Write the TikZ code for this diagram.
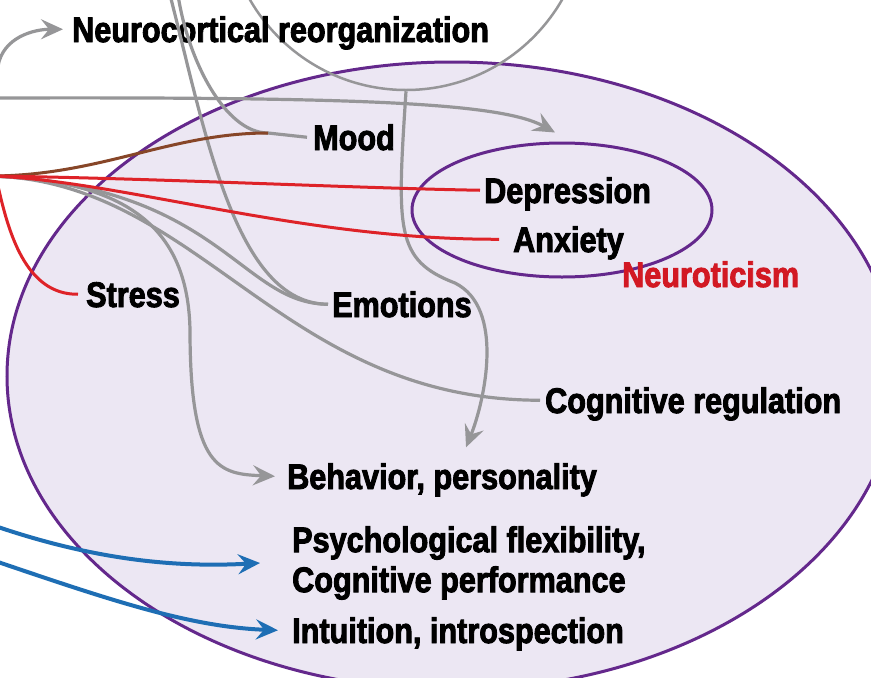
\documentclass[tikz,border=0pt]{standalone}
\usepackage{fontspec}
\usetikzlibrary{arrows.meta,shapes.geometric}
\newfontfamily\lblfont{Liberation Sans}[FakeStretch=0.86,BoldFeatures={FakeBold=2.5}]
\definecolor{lngray}{RGB}{150,150,152}
\definecolor{lnred}{RGB}{222,35,40}
\definecolor{txtred}{RGB}{210,25,35}
\definecolor{lnbrown}{RGB}{135,70,40}
\definecolor{lnblue}{RGB}{30,110,180}
\definecolor{ringpurple}{RGB}{100,40,140}
\definecolor{ringfill}{RGB}{236,231,243}
\begin{document}
\begin{tikzpicture}[x=1pt, y=-1pt,
                    lbl/.style={font=\lblfont\bfseries\fontsize{35.6}{40}\selectfont, inner sep=0pt},
                    caplbl/.style={lbl, anchor=base west, text height=25.5pt, text depth=0pt},
                    grayline/.style={draw=lngray, line width=3.2pt},
                    redline/.style={draw=lnred, line width=3pt},
                    blueline/.style={draw=lnblue, line width=4pt},
                    tip/.style={-{Stealth[length=22pt,width=20pt,inset=8pt]}}]
  \useasboundingbox (0,0) rectangle (871,678);
  \clip (0,0) rectangle (871,678);
  \fill[white] (0,0) rectangle (871,678);
  \draw[draw=ringpurple, fill=ringfill, line width=3pt] (452,376) ellipse [x radius=445pt, y radius=314pt];
  \node[draw=ringpurple, line width=3pt, ellipse, minimum width=300pt, minimum height=134pt] (inner) at (562,210) {};
  \node[draw=lngray, line width=2.5pt, circle, minimum size=360pt] (ring) at (406,-90) {};

  \node[caplbl] (reorg) at (72,42) {Neurocortical reorganization};
  \node[caplbl] (mood) at (313,150) {Mood};
  \node[caplbl] (depr) at (484,203) {Depression};
  \node[caplbl] (anx) at (513,252) {Anxiety};
  \node[caplbl, text=txtred] (neurot) at (622,287) {Neuroticism};
  \node[caplbl] (stress) at (86,307) {Stress};
  \node[caplbl] (emot) at (332,317) {Emotions};
  \node[caplbl] (cogreg) at (545,413) {Cognitive regulation};
  \node[caplbl] (behav) at (287,489) {Behavior, personality};
  \node[lbl, anchor=west, align=left] (psych) at (292,563) {Psychological flexibility,\\Cognitive performance};
  \node[caplbl] (intu) at (292,643) {Intuition, introspection};

  \coordinate (hub) at (-10,176);
  \coordinate (upin) at (-2,66);
  \coordinate (flatin) at (-2,98);
  \coordinate (stressin) at (-2,186);
  \coordinate (topa) at (170,-5);
  \coordinate (topb) at (178,-5);
  \coordinate (moodjoin) at (268,133);
  \coordinate (bluea) at (-2,527);
  \coordinate (blueb) at (-2,562);

  \draw[grayline, tip] (upin) to[out=80, in=180] ([xshift=-9pt]reorg.west);
  \draw[grayline, tip] (flatin) .. controls (350,97) and (500,102) .. ([xshift=-7pt,yshift=9pt]inner.north);
  \draw[grayline] (moodjoin) -- ([xshift=-6pt]mood.west);
  \draw[grayline] (topb) .. controls (188,60) and (225,133) .. (moodjoin);
  \draw[grayline] (hub) .. controls (220,185) and (240,304) .. ([xshift=-4pt]emot.west);
  \draw[grayline] (topa) .. controls (205,130) and (235,304) .. ([xshift=-4pt]emot.west);
  \draw[grayline] (hub) .. controls (200,180) and (280,400) .. ([xshift=-5pt]cogreg.west);
  \draw[grayline, tip] (hub) .. controls (130,180) and (188,230) .. (190,330)
                       .. controls (190,470) and (220,474) .. ([xshift=-12pt]behav.west);
  \draw[grayline, tip] (ring.south) .. controls (397,230) and (395,260) .. (455,283)
                       .. controls (505,308) and (485,400) .. ([xshift=24pt,yshift=16pt]behav.north);
  \draw[draw=lnbrown, line width=3pt] (hub) .. controls (100,176) and (170,133) .. (moodjoin);
  \draw[redline] (hub) .. controls (150,178) and (350,188) .. ([xshift=-4pt]depr.west);
  \draw[redline] (hub) .. controls (120,180) and (300,240) .. ([xshift=-14pt]anx.west);
  \draw[redline] (stressin) .. controls (8,230) and (25,295) .. ([xshift=-8pt]stress.west);
  \draw[blueline, tip] (bluea) .. controls (90,558) and (170,568) .. ([xshift=-32pt]psych.west);
  \draw[blueline, tip] (blueb) .. controls (110,600) and (190,627) .. ([xshift=-14pt]intu.west);
\end{tikzpicture}
\end{document}
